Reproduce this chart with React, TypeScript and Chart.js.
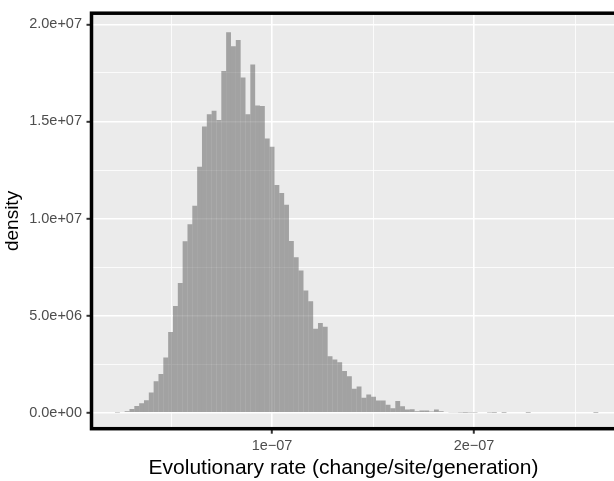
import React, { useEffect, useRef } from 'react';
import { Chart, registerables } from 'chart.js';

Chart.register(...registerables);

// Histogram bins (left edge of the first bin and bin width, in change/site/generation)
const binStart = 2.223e-8;
const binWidth = 2.393e-9;

// Density per bin, in millions
const densityMillions = [
  0.02, 0.05, 0.08, 0.2, 0.36, 0.5, 0.65, 1.05, 1.63, 2.0,
  2.85, 4.16, 5.5, 6.69, 8.83, 9.71, 10.66, 12.67, 14.74, 15.37,
  15.55, 15.08, 17.6, 19.6, 18.88, 19.2, 17.27, 15.37, 17.93, 15.82,
  15.8, 14.13, 13.7, 11.73, 11.32, 10.71, 8.85, 8.01, 7.33, 6.3,
  5.74, 4.33, 4.63, 4.43, 2.92, 2.75, 2.6, 2.16, 1.88, 1.24,
  1.36, 0.78, 0.95, 0.83, 0.64, 0.64, 0.42, 0.24, 0.61, 0.34,
  0.17, 0.19, 0.08, 0.12, 0.12, 0.07, 0.17, 0.08, 0.05, 0.03,
  0.03, 0.02, 0.01, 0.02, 0.015, 0, 0, 0.015, 0.01, 0,
  0.01, 0, 0, 0, 0, 0.01, 0, 0, 0, 0,
  0, 0, 0, 0, 0, 0, 0, 0, 0, 0.01,
];

// Axis ranges and ticks
const xMin = 1.06e-8;
const xMax = 2.693e-7;
const yMin = -0.815e6;
const yMax = 20.575e6;

const xMajorTicks = [1e-7, 2e-7];
const xMajorLabels = ['1e\u221207', '2e\u221207'];
const xMinorTicks = [5e-8, 1.5e-7, 2.5e-7];

const yMajorTicks = [0, 5e6, 1e7, 1.5e7, 2e7];
const yMajorLabels = ['0.0e+00', '5.0e+06', '1.0e+07', '1.5e+07', '2.0e+07'];
const yMinorTicks = [2.5e6, 7.5e6, 1.25e7, 1.75e7];

const xTitle = 'Evolutionary rate (change/site/generation)';
const yTitle = 'density';

const FONT = '"Liberation Sans", Arial, Helvetica, sans-serif';

function findMajor(list: number[], v: number, tol: number): number {
  return list.findIndex((t) => Math.abs(t - v) < tol);
}

export default function App() {
  const canvasRef = useRef<HTMLCanvasElement | null>(null);

  useEffect(() => {
    document.body.style.margin = '0';
    const canvas = canvasRef.current;
    if (!canvas) return;

    const points = densityMillions.map((d, i) => ({
      x: binStart + (i + 0.5) * binWidth,
      y: d * 1e6,
    }));

    const isXMajor = (v: number) => findMajor(xMajorTicks, v, 1e-12) >= 0;
    const isYMajor = (v: number) => findMajor(yMajorTicks, v, 1) >= 0;

    const panelPlugin = {
      id: 'panel',
      beforeDraw(chart: any) {
        const { ctx, chartArea } = chart;
        ctx.save();
        ctx.fillStyle = '#EBEBEB';
        ctx.fillRect(chartArea.left, chartArea.top, chartArea.right - chartArea.left, chartArea.bottom - chartArea.top);
        ctx.restore();
      },
      afterDraw(chart: any) {
        const { ctx, chartArea } = chart;
        ctx.save();
        ctx.strokeStyle = '#000000';
        ctx.lineWidth = 3.5;
        ctx.strokeRect(chartArea.left, chartArea.top, chartArea.right - chartArea.left + 20, chartArea.bottom - chartArea.top);
        // x axis title
        ctx.fillStyle = '#000000';
        ctx.font = `21px ${FONT}`;
        ctx.textAlign = 'center';
        ctx.textBaseline = 'alphabetic';
        ctx.fillText(xTitle, 343.5, 473.5);
        ctx.restore();
      },
    };

    const chart = new Chart(canvas, {
      type: 'bar',
      data: {
        datasets: [
          {
            data: points,
            backgroundColor: 'rgba(89,89,89,0.5)',
            borderWidth: 0,
            inflateAmount: 0,
            barPercentage: 1,
            categoryPercentage: 1,
          } as any,
        ],
      },
      options: {
        animation: false,
        responsive: true,
        maintainAspectRatio: false,
        layout: { padding: { top: 8.7, left: 0, right: 0, bottom: 0 } },
        plugins: { legend: { display: false }, tooltip: { enabled: false } },
        scales: {
          x: {
            type: 'linear',
            min: xMin,
            max: xMax,
            offset: false,
            afterBuildTicks: (s: any) => {
              s.ticks = [...xMinorTicks, ...xMajorTicks].sort((a, b) => a - b).map((v) => ({ value: v }));
            },
            afterFit: (s: any) => {
              s.height = 52.3;
            },
            grid: {
              offset: false,
              color: '#FFFFFF',
              lineWidth: (c: any) => (c.tick && isXMajor(c.tick.value) ? 1.6 : 0.8),
              drawTicks: true,
              tickLength: 5,
              tickColor: (c: any) => (c.tick && isXMajor(c.tick.value) ? '#333333' : 'rgba(0,0,0,0)'),
              tickWidth: 2,
            },
            border: { display: false },
            ticks: {
              autoSkip: false,
              maxRotation: 0,
              padding: 3.5,
              color: '#4D4D4D',
              font: { size: 14.5, family: FONT },
              callback: (v: any) => {
                const i = findMajor(xMajorTicks, Number(v), 1e-12);
                return i >= 0 ? xMajorLabels[i] : '';
              },
            },
          } as any,
          y: {
            type: 'linear',
            min: yMin,
            max: yMax,
            afterBuildTicks: (s: any) => {
              s.ticks = [...yMajorTicks, ...yMinorTicks].sort((a, b) => a - b).map((v) => ({ value: v }));
            },
            afterFit: (s: any) => {
              s.width = 91.5;
            },
            grid: {
              color: '#FFFFFF',
              lineWidth: (c: any) => (c.tick && isYMajor(c.tick.value) ? 1.6 : 0.8),
              drawTicks: true,
              tickLength: 5,
              tickColor: (c: any) => (c.tick && isYMajor(c.tick.value) ? '#333333' : 'rgba(0,0,0,0)'),
              tickWidth: 2,
            },
            border: { display: false },
            ticks: {
              autoSkip: false,
              padding: 4.5,
              color: '#4D4D4D',
              font: { size: 14.5, family: FONT },
              callback: (v: any) => {
                const i = findMajor(yMajorTicks, Number(v), 1);
                return i >= 0 ? yMajorLabels[i] : '';
              },
            },
            title: {
              display: true,
              text: yTitle,
              color: '#000000',
              font: { size: 19, family: FONT },
              padding: { top: 1, bottom: 0 },
            },
          } as any,
        },
      },
      plugins: [panelPlugin],
    });

    return () => {
      chart.destroy();
    };
  }, []);

  return (
    <div style={{ width: 614, height: 481, position: 'relative' }}>
      <canvas ref={canvasRef} />
    </div>
  );
}
